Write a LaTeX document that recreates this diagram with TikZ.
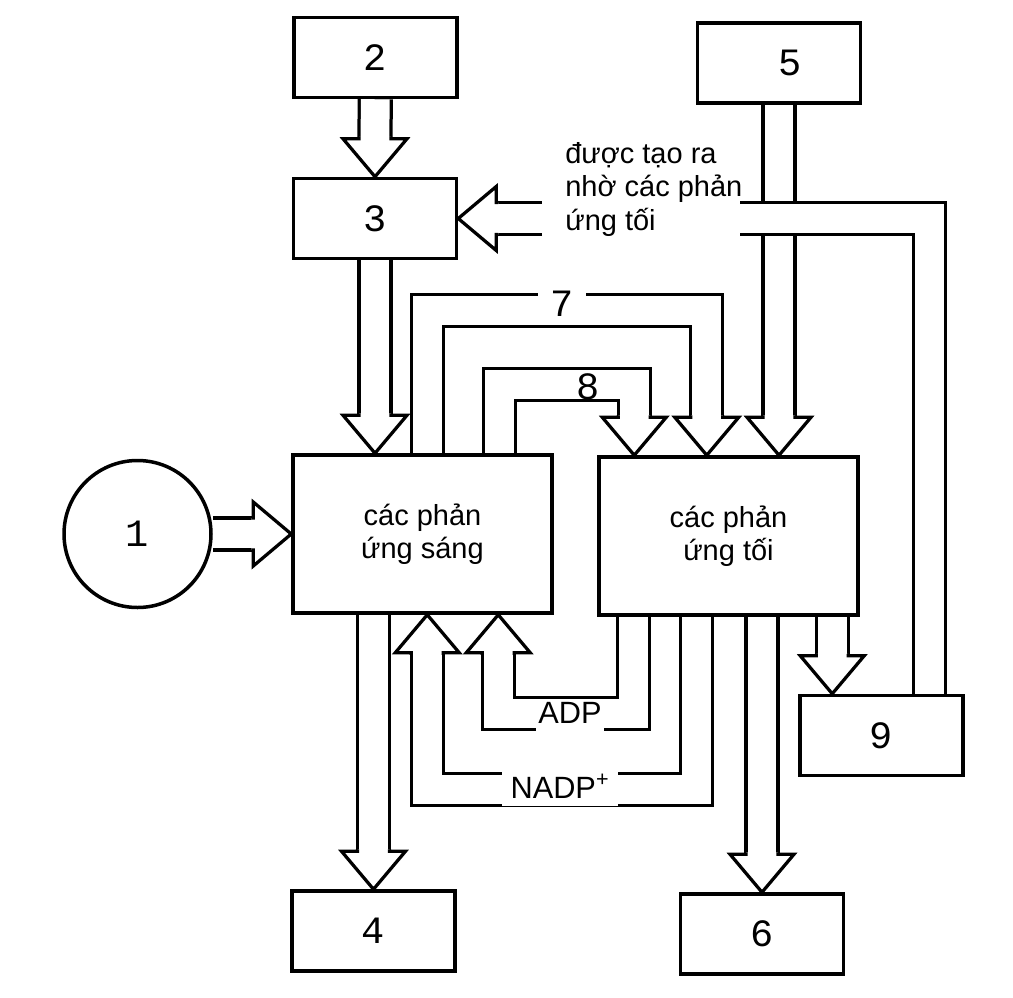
\documentclass[tikz,border=0pt]{standalone}
\usepackage{fontspec}
\setmainfont{Liberation Sans}
\newfontfamily\numfont{Liberation Mono}
\usetikzlibrary{calc,backgrounds}

\begin{document}
\begin{tikzpicture}[font=\fontsize{16.5}{19}\selectfont, line join=miter,
  box/.style={draw, line width=0.7mm, fill=white, minimum width=3.26cm, minimum height=1.6cm,
              font=\numfont\fontsize{22}{26}\selectfont},
  react/.style={box, minimum width=5.18cm, minimum height=3.16cm, align=center,
                font=\fontsize{16.5}{19}\selectfont},
  shaft/.style={draw, line width=0.65mm, double=white, double distance=5.75mm},
  lab/.style={inner sep=0pt},
  num/.style={lab, font=\numfont\fontsize{22}{26}\selectfont},
  chem/.style={lab, fill=white, anchor=base, font=\fontsize{17.5}{20}\selectfont},
  arrowhead/.pic={\draw[line width=0.65mm, fill=white] (0.32,0.80) -- (0.32,0.76) -- (0.64,0.76)
                   -- (0,0) -- (-0.64,0.76) -- (-0.32,0.76) -- (-0.32,0.80);}]
\useasboundingbox (0,0) rectangle (20.26,-19.94);

% ---------------- boxes
\node[box] (b2) at (7.51,-1.15) {2};
\node[box] (b3) at (7.50,-4.37) {3};
\node[box] (b5) at (15.58,-1.26) {\hspace{4.4mm}5};
\node[react] (ls) at (8.45,-10.68) {các phản\\ứng sáng};
\node[react] (ds) at (14.57,-10.72) {các phản\\ứng tối};
\node[circle, draw, line width=0.7mm, fill=white, minimum size=2.94cm,
      font=\numfont\fontsize{22}{26}\selectfont] (c1) at (2.75,-10.68) {1};
\node[box] (b4) at (7.47,-18.62) {4};
\node[box] (b6) at (15.24,-18.68) {6};
\node[box] (b9) at (17.63,-14.71) {9};

% ---------------- where the bent arrows start and end
\coordinate (s7) at ($(ls.north west)+(2.72,0)$);
\coordinate (s8) at ($(ls.north west)+(4.17,0)$);
\coordinate (t8) at ($(ds.north west)+(0.74,0)$);
\coordinate (t7) at ($(ds.north west)+(2.19,0)$);
\coordinate (sa) at ($(ds.south west)+(0.72,0)$);
\coordinate (sn) at ($(ds.south west)+(1.98,0)$);
\coordinate (ta) at ($(ls.south west)+(4.14,0)$);
\coordinate (tn) at ($(ls.south west)+(2.72,0)$);
\coordinate (t9) at ($(b9.north west)+(0.68,0)$);
\coordinate (s9) at ($(b9.north west)+(2.62,0)$);
\coordinate (gapL) at (10.84,-4.37);
\coordinate (gapR) at (14.80,-4.37);

\begin{scope}[on background layer]
% ---------------- straight arrows
\draw[shaft] (b2) -- ($(b3.north)+(0,0.76)$);
\pic at (b3.north) {arrowhead};
\draw[shaft] (b3.south) -- ($(b3.south |- ls.north)+(0,0.76)$);
\pic at (b3.south |- ls.north) {arrowhead};
\draw[shaft] (c1) -- ($(ls.west)+(-0.76,0)$);
\pic[rotate=90] at (ls.west) {arrowhead};
\draw[shaft] (b5) -- ($(b5 |- ds.north)+(0,0.76)$);
\pic at (b5 |- ds.north) {arrowhead};
\draw[shaft] (b4 |- ls.south) -- ($(b4.north)+(0,0.76)$);
\pic at (b4.north) {arrowhead};
\draw[shaft] (b6 |- ds.south) -- ($(b6.north)+(0,0.76)$);
\pic at (b6.north) {arrowhead};
\draw[shaft] (t9 |- ds.south) -- ($(t9)+(0,0.76)$);
\pic at (t9) {arrowhead};
% ---------------- bent arrows between the two reaction boxes
\draw[shaft] (s7) |- ($(t7)+(0,2.90)$) -- ($(t7)+(0,0.76)$);
\pic at (t7) {arrowhead};
\draw[shaft] (s8) |- ($(t8)+(0,1.42)$) -- ($(t8)+(0,0.76)$);
\pic at (t8) {arrowhead};
\draw[shaft] (sa) |- ($(ta)+(0,-1.98)$) -- ($(ta)+(0,-0.76)$);
\pic[rotate=180] at (ta) {arrowhead};
\draw[shaft] (sn) |- ($(tn)+(0,-3.49)$) -- ($(tn)+(0,-0.76)$);
\pic[rotate=180] at (tn) {arrowhead};
% ---------------- from 9 back to 3
\draw[shaft] (s9) |- (gapR);
\draw[shaft] (gapL) -- ($(b3.east)+(0.76,0)$);
\pic[rotate=-90] at (b3.east) {arrowhead};
\end{scope}

% ---------------- labels
\node[num, fill=white, inner xsep=2.4mm, inner ysep=0.6mm] (n7) at (11.24,-6.07) {7};
\node[num] (n8) at (11.76,-7.74) {8};
\node[chem, inner xsep=0.4mm, inner ysep=0.3mm, text depth=3mm] (adp) at (11.40,-14.46) {ADP};
\node[chem, inner xsep=1.8mm, inner ysep=1.5mm] (nadp) at (11.20,-15.96) {NADP\textsuperscript{+}};
\node[lab, align=left, anchor=north west] (note) at (11.30,-2.84)
  {được tạo ra\\nhờ các phản\\ứng tối};
\end{tikzpicture}
\end{document}
